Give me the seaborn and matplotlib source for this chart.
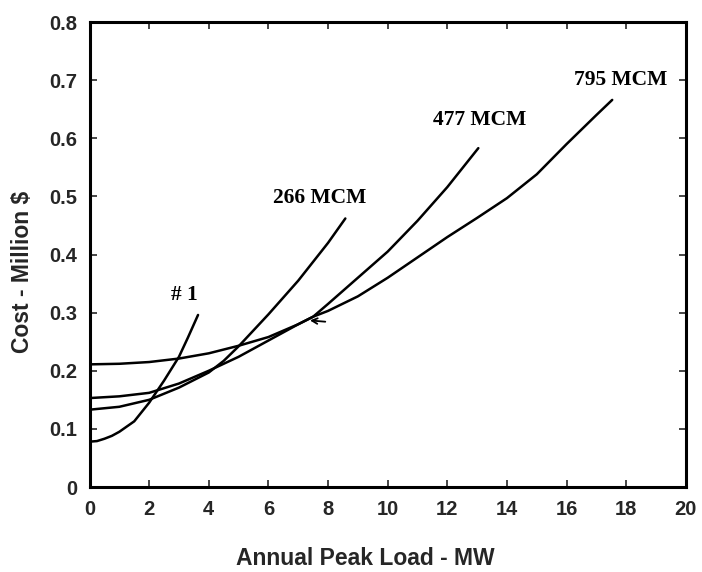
import matplotlib
matplotlib.use("Agg")
import matplotlib.pyplot as plt
import seaborn as sns
import pandas as pd

# Conductor cost curves: annual peak load (MW) vs. cost (million $)
load_1 = [0, 0.25, 0.5, 0.75, 1.0, 1.5, 2.0, 2.5, 3.0, 3.3, 3.64]
cost_1 = [0.078, 0.079, 0.083, 0.088, 0.095, 0.113, 0.145, 0.183, 0.224, 0.257, 0.296]

load_266 = [0, 1, 2, 3, 4, 4.5, 5, 6, 7, 8, 8.58]
cost_266 = [0.133, 0.138, 0.150, 0.171, 0.197, 0.217, 0.242, 0.297, 0.355, 0.420, 0.462]

load_477 = [0, 1, 2, 3, 4, 5, 6, 7, 7.5, 8, 9, 10, 11, 12, 13.04]
cost_477 = [0.153, 0.156, 0.162, 0.178, 0.200, 0.224, 0.252, 0.280, 0.293, 0.315,
            0.360, 0.405, 0.458, 0.516, 0.583]

load_795 = [0, 1, 2, 3, 4, 5, 6, 7, 7.5, 8, 9, 10, 11, 12, 13, 14, 15, 16, 17, 17.53]
cost_795 = [0.211, 0.212, 0.215, 0.221, 0.230, 0.243, 0.258, 0.280, 0.293, 0.303,
            0.328, 0.360, 0.395, 0.430, 0.463, 0.497, 0.538, 0.590, 0.640, 0.666]

curve_names = ["# 1", "266 MCM", "477 MCM", "795 MCM"]
label_pos = {"# 1": (3.17, 0.330), "266 MCM": (7.71, 0.497),
             "477 MCM": (13.1, 0.632), "795 MCM": (17.8, 0.700)}

frames = []
for name, xs, ys in zip(curve_names,
                        [load_1, load_266, load_477, load_795],
                        [cost_1, cost_266, cost_477, cost_795]):
    frames.append(pd.DataFrame({"load": xs, "cost": ys, "conductor": name}))
df = pd.concat(frames, ignore_index=True)

sns.set_style("ticks")
plt.rcParams["font.family"] = ["Liberation Sans", "DejaVu Sans"]

fig = plt.figure(figsize=(7.02, 5.72), dpi=100)
ax = fig.add_axes([0.1275, 0.1486, 0.977 - 0.1275, 0.9615 - 0.1486])

sns.lineplot(data=df, x="load", y="cost", units="conductor", estimator=None,
             color="black", linewidth=1.8, sort=False, ax=ax, legend=False)

for name in curve_names:
    lx, ly = label_pos[name]
    ax.text(lx, ly, name, ha="center", va="center", fontsize=15.5,
            family=["Liberation Serif"], fontweight="bold", color="black")

# small pointer near the 477/795 crossing
ax.annotate("", xy=(7.3, 0.287), xytext=(8.0, 0.284),
            arrowprops=dict(arrowstyle="->", color="black", lw=1.3))

ax.set_xlim(0, 20)
ax.set_ylim(0, 0.8)
ax.set_xticks(range(0, 21, 2))
ax.set_yticks([0, 0.1, 0.2, 0.3, 0.4, 0.5, 0.6, 0.7, 0.8])
ax.set_yticklabels(["0", "0.1", "0.2", "0.3", "0.4", "0.5", "0.6", "0.7", "0.8"])
ax.tick_params(direction="in", top=True, right=True, length=5, width=1.2,
               labelsize=14.5, pad=9)
for lab in ax.get_xticklabels() + ax.get_yticklabels():
    lab.set_fontweight("bold")
for sp in ax.spines.values():
    sp.set_visible(True)
    sp.set_linewidth(2.2)
    sp.set_color("black")

ax.set_xlabel("Annual Peak Load - MW", fontsize=16.5, fontweight="bold")
ax.set_ylabel("Cost - Million $", fontsize=16.5, fontweight="bold")
ax.xaxis.set_label_coords(0.462, -0.128)
ax.yaxis.set_label_coords(-0.093, 0.462)

fig.savefig("out.png", dpi=100, facecolor="white")
